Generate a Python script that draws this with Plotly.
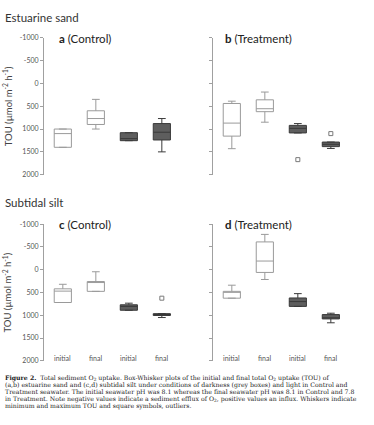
import plotly.graph_objects as go

W, H = 374, 425

# ---------------- data ----------------
cats = ["initial", "final", "initial", "final"]
ytick_vals = [-1000, -500, 0, 500, 1000, 1500, 2000]
ytick_text = ["-1000", "-500", "0", "500", "1000", "1500", "2000"]

# panel a: estuarine sand, control
a_low = [1000, 350, 1080, 770]
a_q1 = [1000, 600, 1080, 880]
a_med = [1100, 770, 1210, 1070]
a_q3 = [1400, 900, 1255, 1240]
a_high = [1400, 1000, 1255, 1500]
a_out_x = []
a_out_y = []

# panel b: estuarine sand, treatment
b_low = [390, 190, 880, 1285]
b_q1 = [440, 360, 920, 1285]
b_med = [870, 555, 985, 1335]
b_q3 = [1155, 620, 1085, 1385]
b_high = [1430, 850, 1085, 1425]
b_out_x = [2, 3]
b_out_y = [1670, 1100]

# panel c: subtidal silt, control
c_low = [320, 45, 735, 965]
c_q1 = [420, 260, 770, 965]
c_med = [470, 280, 805, 980]
c_q3 = [720, 475, 890, 1005]
c_high = [720, 475, 890, 1050]
c_out_x = [3]
c_out_y = [625]

# panel d: subtidal silt, treatment
d_low = [340, -775, 525, 955]
d_q1 = [475, -610, 620, 985]
d_med = [490, -190, 700, 1055]
d_q3 = [625, 60, 805, 1080]
d_high = [625, 215, 805, 1165]
d_out_x = []
d_out_y = []

panels = [
    ("a", "Control", a_low, a_q1, a_med, a_q3, a_high, a_out_x, a_out_y),
    ("b", "Treatment", b_low, b_q1, b_med, b_q3, b_high, b_out_x, b_out_y),
    ("c", "Control", c_low, c_q1, c_med, c_q3, c_high, c_out_x, c_out_y),
    ("d", "Treatment", d_low, d_q1, d_med, d_q3, d_high, d_out_x, d_out_y),
]

caption_lines = [
    "<b>Figure 2.</b>  Total sediment O<sub>2</sub> uptake. Box-Whisker plots of the initial and final total O<sub>2</sub> uptake (TOU) of",
    "(a,b) estuarine sand and (c,d) subtidal silt under conditions of darkness (grey boxes) and light in Control and",
    "Treatment seawater. The initial seawater pH was 8.1 whereas the final seawater pH was 8.1 in Control and 7.8",
    "in Treatment. Note negative values indicate a sediment efflux of O<sub>2</sub>, positive values an influx. Whiskers indicate",
    "minimum and maximum TOU and square symbols, outliers.",
]

# ---------------- layout geometry (pixels) ----------------
def px_x(p):
    return p / W

def px_y(p):
    return 1 - p / H

col_x = [(44, 180), (213, 349)]
row_y = [(33.3, 173), (223.3, 362.7)]

FONT = "Lato"
fig = go.Figure()

light_line = "#9a9a9a"
dark_fill = "#5e5e5e"
dark_line = "#3a3a3a"
pos = list(range(len(cats)))

for i, (lab, cond, lo, q1, med, q3, hi, ox, oy) in enumerate(panels):
    r, c = divmod(i, 2)
    n = i + 1
    xa = "x" if n == 1 else f"x{n}"
    ya = "y" if n == 1 else f"y{n}"
    for idx, fill, line in [([0, 1], "white", light_line), ([2, 3], dark_fill, dark_line)]:
        fig.add_trace(go.Box(
            x=[pos[k] for k in idx],
            q1=[q1[k] for k in idx], median=[med[k] for k in idx], q3=[q3[k] for k in idx],
            lowerfence=[lo[k] for k in idx], upperfence=[hi[k] for k in idx],
            fillcolor=fill, line=dict(color=line, width=1),
            width=0.52, whiskerwidth=0.45, boxpoints=False,
            xaxis=xa, yaxis=ya, showlegend=False, hoverinfo="skip",
        ))
    if ox:
        fig.add_trace(go.Scatter(
            x=ox, y=oy, mode="markers",
            marker=dict(symbol="square-open", size=4, color="#7a7a7a", line=dict(width=1)),
            xaxis=xa, yaxis=ya, showlegend=False, hoverinfo="skip",
        ))
    xd = [px_x(col_x[c][0]), px_x(col_x[c][1])]
    yd = [px_y(row_y[r][1]), px_y(row_y[r][0])]
    xkey = "xaxis" if n == 1 else f"xaxis{n}"
    ykey = "yaxis" if n == 1 else f"yaxis{n}"
    fig.update_layout(**{
        xkey: dict(domain=xd, anchor=ya, range=[-0.57, 3.55], showline=False, showgrid=False,
                   zeroline=False, ticks="", showticklabels=False),
        ykey: dict(domain=yd, anchor=xa, range=[2001, -1001], showline=True, linecolor="#a0a0a0",
                   linewidth=1, ticks="outside", ticklen=3, tickcolor="#a0a0a0",
                   showgrid=False, zeroline=False, tickvals=ytick_vals, ticktext=ytick_text,
                   showticklabels=(c == 0), tickfont=dict(family=FONT, size=7, color="#555")),
    })
    if r == 1:
        for k, cat in enumerate(cats):
            fig.add_annotation(x=pos[k], y=px_y(359.5), xref=xa, yref="paper", text=cat,
                               showarrow=False, xanchor="center", yanchor="middle",
                               font=dict(family=FONT, size=7, color="#555"))
    fig.add_annotation(x=px_x(57 if c == 0 else 223), y=px_y(row_y[r][0] + 0.8), xref="paper", yref="paper",
                       text=f"<b>{lab}</b> ({cond})", showarrow=False, xanchor="left", yanchor="middle",
                       font=dict(family=FONT, size=11.5, color="#222"))
    if c == 0:
        fig.add_annotation(x=px_x(7), y=(yd[0] + yd[1]) / 2, xref="paper", yref="paper",
                           text="TOU (µmol m<sup>-2</sup> h<sup>-1</sup>)", textangle=-90, showarrow=False,
                           xanchor="center", yanchor="middle", font=dict(family=FONT, size=9.5, color="#444"))

for txt, yy in [("Estuarine sand", 12.3), ("Subtidal silt", 201.7)]:
    fig.add_annotation(x=px_x(3), y=px_y(yy), xref="paper", yref="paper", text=txt, showarrow=False,
                       xanchor="left", yanchor="middle", font=dict(family=FONT, size=11.5, color="#333"))

for k, line in enumerate(caption_lines):
    fig.add_annotation(x=px_x(3), y=px_y(380 + 7.3 * k), xref="paper", yref="paper", text=line,
                       showarrow=False, xanchor="left", yanchor="middle",
                       font=dict(family="DejaVu Serif", size=6.2, color="#222"))

fig.update_layout(width=W, height=H, margin=dict(l=0, r=0, t=0, b=0), autosize=False,
                  paper_bgcolor="white", plot_bgcolor="white", showlegend=False)

fig.write_html("out.html", config={"displayModeBar": False},
               post_script="document.body.style.margin='0';")
